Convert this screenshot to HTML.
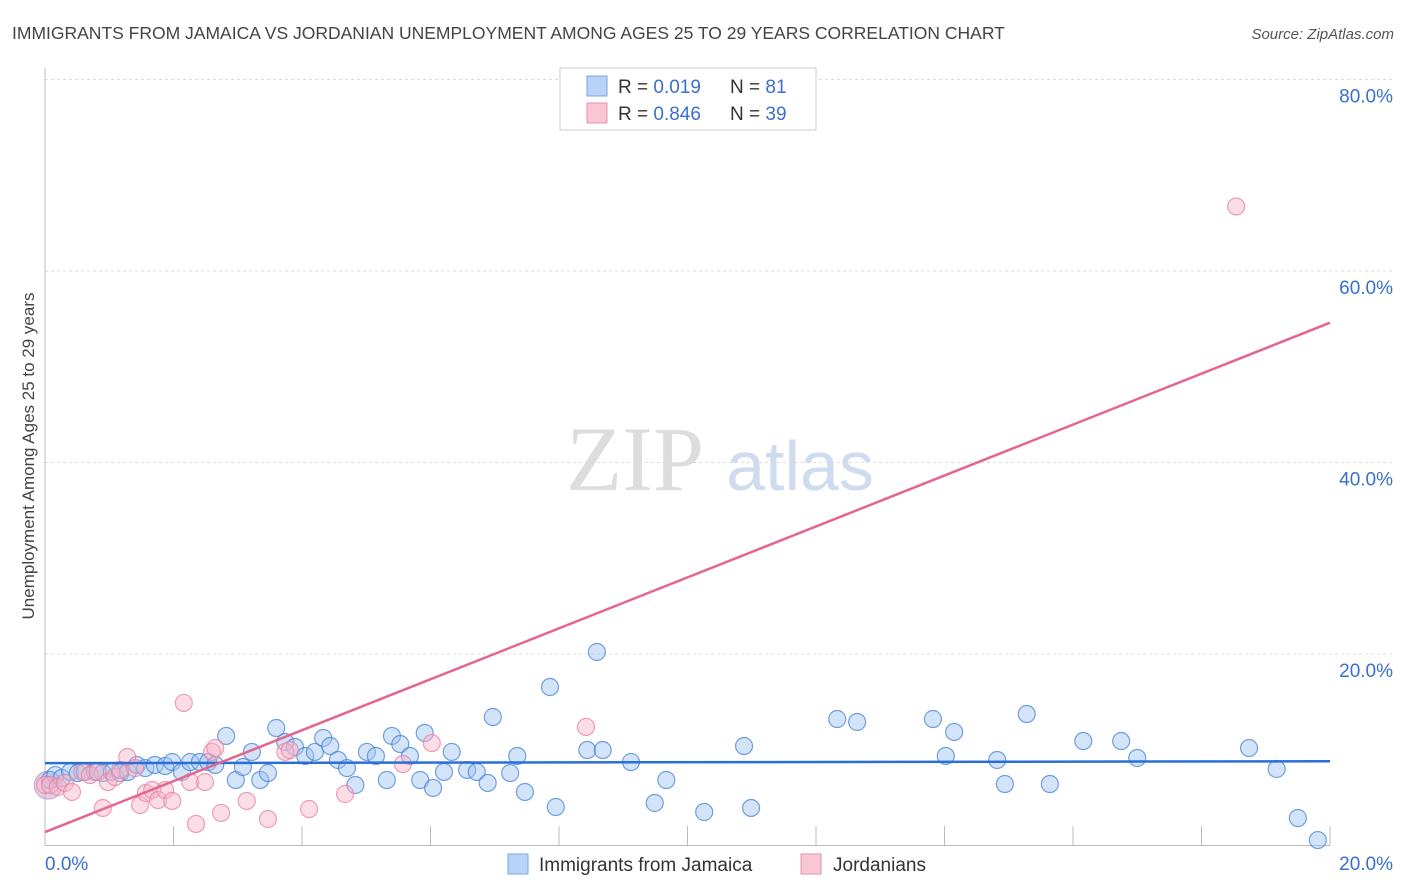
<!DOCTYPE html>
<html><head><meta charset="utf-8"><style>
body{margin:0;background:#fff;font-family:"Liberation Sans",sans-serif;}
</style></head><body>
<svg id="chart" width="1406" height="892" xmlns="http://www.w3.org/2000/svg" style="display:block">
<text x="12" y="39" font-size="17.5" fill="#444">IMMIGRANTS FROM JAMAICA VS JORDANIAN UNEMPLOYMENT AMONG AGES 25 TO 29 YEARS CORRELATION CHART</text>
<text x="1394" y="39" font-size="15" fill="#555" text-anchor="end" font-style="italic">Source: ZipAtlas.com</text>
<g>
<text x="635" y="490" font-size="92" fill="#ddd" text-anchor="middle" font-family="Liberation Serif,serif">ZIP</text>
<text x="800" y="490" font-size="70" fill="#cfdcf0" text-anchor="middle">atlas</text>
</g>
<g id="grid"></g>
<g id="axes"></g>
<g id="points"></g>
<g id="lines"></g>
<text transform="translate(34,456) rotate(-90)" font-size="17" fill="#444" text-anchor="middle">Unemployment Among Ages 25 to 29 years</text>
<g>
<rect x="560" y="68" width="256" height="62" fill="#fff" stroke="#ccc"/>
<rect x="587" y="76" width="20" height="20" fill="#b8d3f5" stroke="#7aa6e0"/>
<rect x="587" y="103" width="20" height="20" fill="#f9c6d4" stroke="#e890aa"/>
<text x="618" y="93" font-size="19" fill="#333">R = <tspan fill="#3a6fcf">0.019</tspan></text>
<text x="730" y="93" font-size="19" fill="#333">N = <tspan fill="#3a6fcf"> 81</tspan></text>
<text x="618" y="120" font-size="19" fill="#333">R = <tspan fill="#3a6fcf">0.846</tspan></text>
<text x="730" y="120" font-size="19" fill="#333">N = <tspan fill="#3a6fcf"> 39</tspan></text>
</g>
<g>
<rect x="508" y="854" width="20" height="20" fill="#b8d3f5" stroke="#7aa6e0"/>
<text x="539" y="871" font-size="19" fill="#333">Immigrants from Jamaica</text>
<rect x="801" y="854" width="20" height="20" fill="#f9c6d4" stroke="#e890aa"/>
<text x="833" y="871" font-size="19" fill="#333">Jordanians</text>
</g>
</svg>
<script>
const xTicks=[0,2,4,6,8,10,12,14,16,18,20];
const yTicks=[20,40,60,80];
const yTickLabels=["20.0%","40.0%","60.0%","80.0%"];
const blueX=[0.08,0.16,0.26,0.39,0.51,0.62,0.78,0.90,1.04,1.17,1.29,1.43,1.56,1.71,1.87,1.98,2.13,2.26,2.41,2.54,2.65,2.82,2.97,3.08,3.22,3.35,3.47,3.60,3.74,3.89,4.05,4.20,4.33,4.44,4.56,4.70,4.83,5.01,5.15,5.32,5.40,5.53,5.68,5.84,5.91,6.04,6.21,6.33,6.57,6.72,6.89,6.97,7.24,7.35,7.47,7.86,7.95,8.44,8.59,8.68,9.12,9.49,9.67,10.26,10.88,10.99,12.33,12.64,13.82,14.02,14.15,14.82,14.94,15.28,15.64,16.16,16.75,17.00,18.74,19.17,19.50,19.81];
const blueY=[6.84,7.36,7.05,7.68,7.57,7.68,7.68,7.57,7.68,7.57,7.68,8.41,8.09,8.41,8.30,8.72,7.68,8.72,8.72,8.72,8.41,11.44,6.84,8.20,9.77,6.84,7.57,12.27,10.81,10.29,9.35,9.77,11.23,10.39,8.93,8.09,6.32,9.77,9.35,6.84,11.44,10.60,9.35,6.84,11.75,6.01,7.68,9.77,7.89,7.68,6.53,13.42,7.57,9.35,5.59,16.55,4.02,9.97,20.21,9.97,8.72,4.44,6.84,3.50,10.39,3.92,13.21,12.90,13.21,9.35,11.86,8.93,6.42,13.73,6.42,10.91,10.91,9.14,10.18,7.99,2.87,0.57];
const pinkX=[0.0,0.08,0.20,0.31,0.42,0.58,0.70,0.82,0.90,0.98,1.09,1.17,1.28,1.40,1.48,1.57,1.67,1.76,1.87,1.98,2.16,2.26,2.35,2.49,2.60,2.65,2.74,3.14,3.47,3.74,3.81,4.11,4.67,5.57,6.02,8.42,18.54];
const pinkY=[6.32,6.32,6.11,6.53,5.59,7.68,7.36,7.68,3.92,6.63,7.15,7.89,9.24,8.09,4.23,5.48,5.80,4.75,5.80,4.65,14.89,6.63,2.25,6.63,9.77,10.18,3.40,4.65,2.77,9.77,9.97,3.81,5.38,8.51,10.70,12.38,66.74];
const blueFit=[8.6,8.8];
const pinkFit=[1.4,54.6];
const NS="http://www.w3.org/2000/svg";
const X0=45,X1=1330,Y0=845.5,Y80=79.5;
const sx=v=>X0+(v/20)*(X1-X0);
const sy=v=>Y0-(v/80)*(Y0-Y80);
function mk(tag,attrs,parent){const e=document.createElementNS(NS,tag);for(const k in attrs)e.setAttribute(k,attrs[k]);document.getElementById(parent).appendChild(e);return e;}
yTicks.forEach((t,i)=>{
 const g=mk('line',{x1:X0,x2:1395,y1:sy(t),y2:sy(t),stroke:'#ddd','stroke-dasharray':'3,3'},'grid');
 
 
 const l=mk('text',{x:1393,y:sy(t)+23,'font-size':19,fill:'#3a6fcf','text-anchor':'end'},'axes');
 l.textContent=yTickLabels[i];
 
 
});
const ax=mk('line',{x1:X0,x2:X1,y1:Y0,y2:Y0,stroke:'#bbb'},'axes');


const ay=mk('line',{x1:X0,x2:X0,y1:68,y2:Y0,stroke:'#bbb'},'axes');


xTicks.forEach(t=>{
 const tk=mk('line',{x1:sx(t),x2:sx(t),y1:826,y2:Y0,stroke:'#bbb'},'axes');
 
 
});
const xl0=mk('text',{x:45,y:870,'font-size':19,fill:'#3a6fcf'},'axes');xl0.textContent='0.0%';


const xl1=mk('text',{x:1393,y:870,'font-size':19,fill:'#3a6fcf','text-anchor':'end'},'axes');xl1.textContent='20.0%';


const big=mk('circle',{cx:sx(0.05),cy:sy(6.3),r:14,fill:'rgba(200,160,200,0.5)',stroke:'rgba(160,120,180,0.6)'},'points');


blueX.forEach((v,i)=>{
 const c=mk('circle',{cx:sx(v),cy:sy(blueY[i]),r:8.5,fill:'rgba(160,196,240,0.45)',stroke:'rgba(70,130,215,0.75)','stroke-width':1.2},'points');
 
 
});
pinkX.forEach((v,i)=>{
 const c=mk('circle',{cx:sx(v),cy:sy(pinkY[i]),r:8.5,fill:'rgba(246,180,200,0.45)',stroke:'rgba(230,130,160,0.75)','stroke-width':1.2},'points');
 
 
});
const bl=mk('line',{x1:sx(0),x2:sx(20),y1:sy(blueFit[0]),y2:sy(blueFit[1]),stroke:'#2a6fd6','stroke-width':2.5},'lines');


const pl=mk('line',{x1:sx(0),x2:sx(20),y1:sy(pinkFit[0]),y2:sy(pinkFit[1]),stroke:'#e4668e','stroke-width':2.5},'lines');


</script>
</body></html>
